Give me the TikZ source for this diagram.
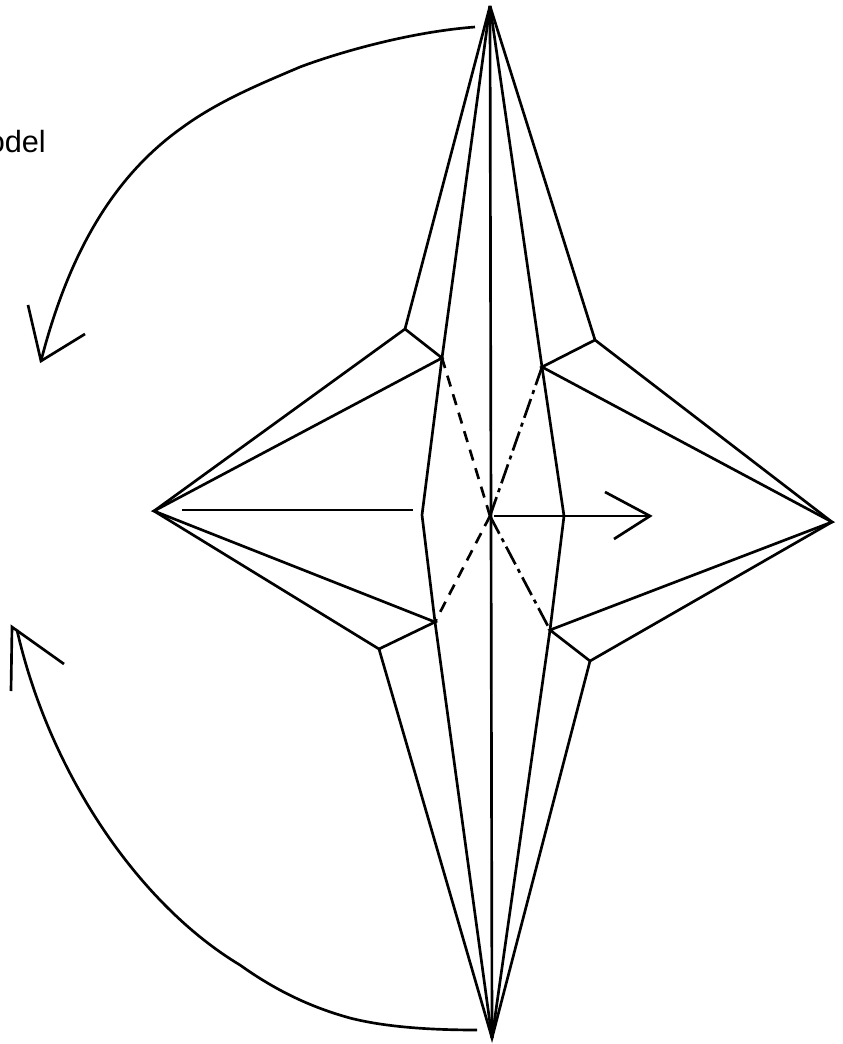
\documentclass[tikz,border=0pt]{standalone}
\usepackage{fontspec}
\setmainfont{Liberation Sans}
\tikzset{
  edge/.style={line width=2pt,line join=miter,black},
  dashA/.style={edge,dash pattern=on 8.5pt off 6pt},
  dashB/.style={edge,dash pattern=on 15pt off 4pt on 3pt off 4pt},
  label/.style={font=\fontsize{23pt}{27pt}\selectfont,inner sep=0pt,anchor=base east}
}
\begin{document}
\begin{tikzpicture}[x=0.75pt,y=-0.75pt]
\useasboundingbox (0,0) rectangle (842,1044);
\coordinate (T) at (490,6);
\coordinate (B) at (492,1038);
\coordinate (L) at (154,511);
\coordinate (R) at (832,522);
\coordinate (C) at (490,516);
\coordinate (ULo) at (405,329);
\coordinate (ULi) at (442,358);
\coordinate (URo) at (595,340);
\coordinate (URi) at (542,367);
\coordinate (LLo) at (379,649);
\coordinate (LLi) at (435,622);
\coordinate (LRo) at (590,661);
\coordinate (LRi) at (550,630);
\coordinate (ML) at (422,515);
\coordinate (MR) at (564,516);
% star outline and ribs
\draw[edge] (T) -- (ULo) -- (L) -- (LLo) -- (B) -- (LRo) -- (R) -- (URo) -- (T);
\draw[edge] (T) -- (ULi) -- (ML) -- (LLi) -- (B);
\draw[edge] (T) -- (URi) -- (MR) -- (LRi) -- (B);
\draw[edge] (T) -- (B);
\draw[edge] (ULo) -- (ULi) -- (L) -- (LLi) -- (LLo);
\draw[edge] (URo) -- (URi) -- (R) -- (LRi) -- (LRo);
% fold lines
\draw[dashA] (C) -- (ULi);
\draw[dashA] (C) -- (LLi);
\draw[dashB] (C) -- (URi);
\draw[dashB] (C) -- (LRi);
% axis arrows
\coordinate (a1) at (182,510);
\coordinate (a2) at (413,510);
\draw[edge] (a1) -- (a2);
\coordinate (b1) at (494,516);
\coordinate (b2) at (650,516);
\coordinate (b3) at (605,492);
\coordinate (b4) at (614,539);
\draw[edge] (b1) -- (b2);
\draw[edge] (b3) -- (b2) -- (b4);
% curved arrows
\coordinate (c1) at (475,27);
\coordinate (c2) at (41,361);
\coordinate (c3) at (28,305);
\coordinate (c4) at (85,334);
\coordinate (c5) at (300,67);
\coordinate (c6) at (183,127);
\draw[edge] (c1) .. controls (410,32) and (340,52) .. (c5)
  .. controls (265,82) and (220,100) .. (c6)
  .. controls (122,170) and (72,240) .. (c2);
\draw[edge] (c3) -- (c2) -- (c4);
\coordinate (d1) at (477,1030);
\coordinate (d2) at (17,630);
\coordinate (d3) at (11,691);
\coordinate (d4) at (64,664);
\coordinate (d5) at (12,627);
\coordinate (d6) at (350,1018);
\coordinate (d7) at (240,965);
\draw[edge] (d1) .. controls (430,1030) and (385,1027) .. (d6)
  .. controls (310,1007) and (275,990) .. (d7)
  .. controls (140,905) and (50,775) .. (d2);
\draw[edge] (d3) -- (d5) -- (d4);
\node[label] (txt) at (46,153) {odel};
\end{tikzpicture}
\end{document}
